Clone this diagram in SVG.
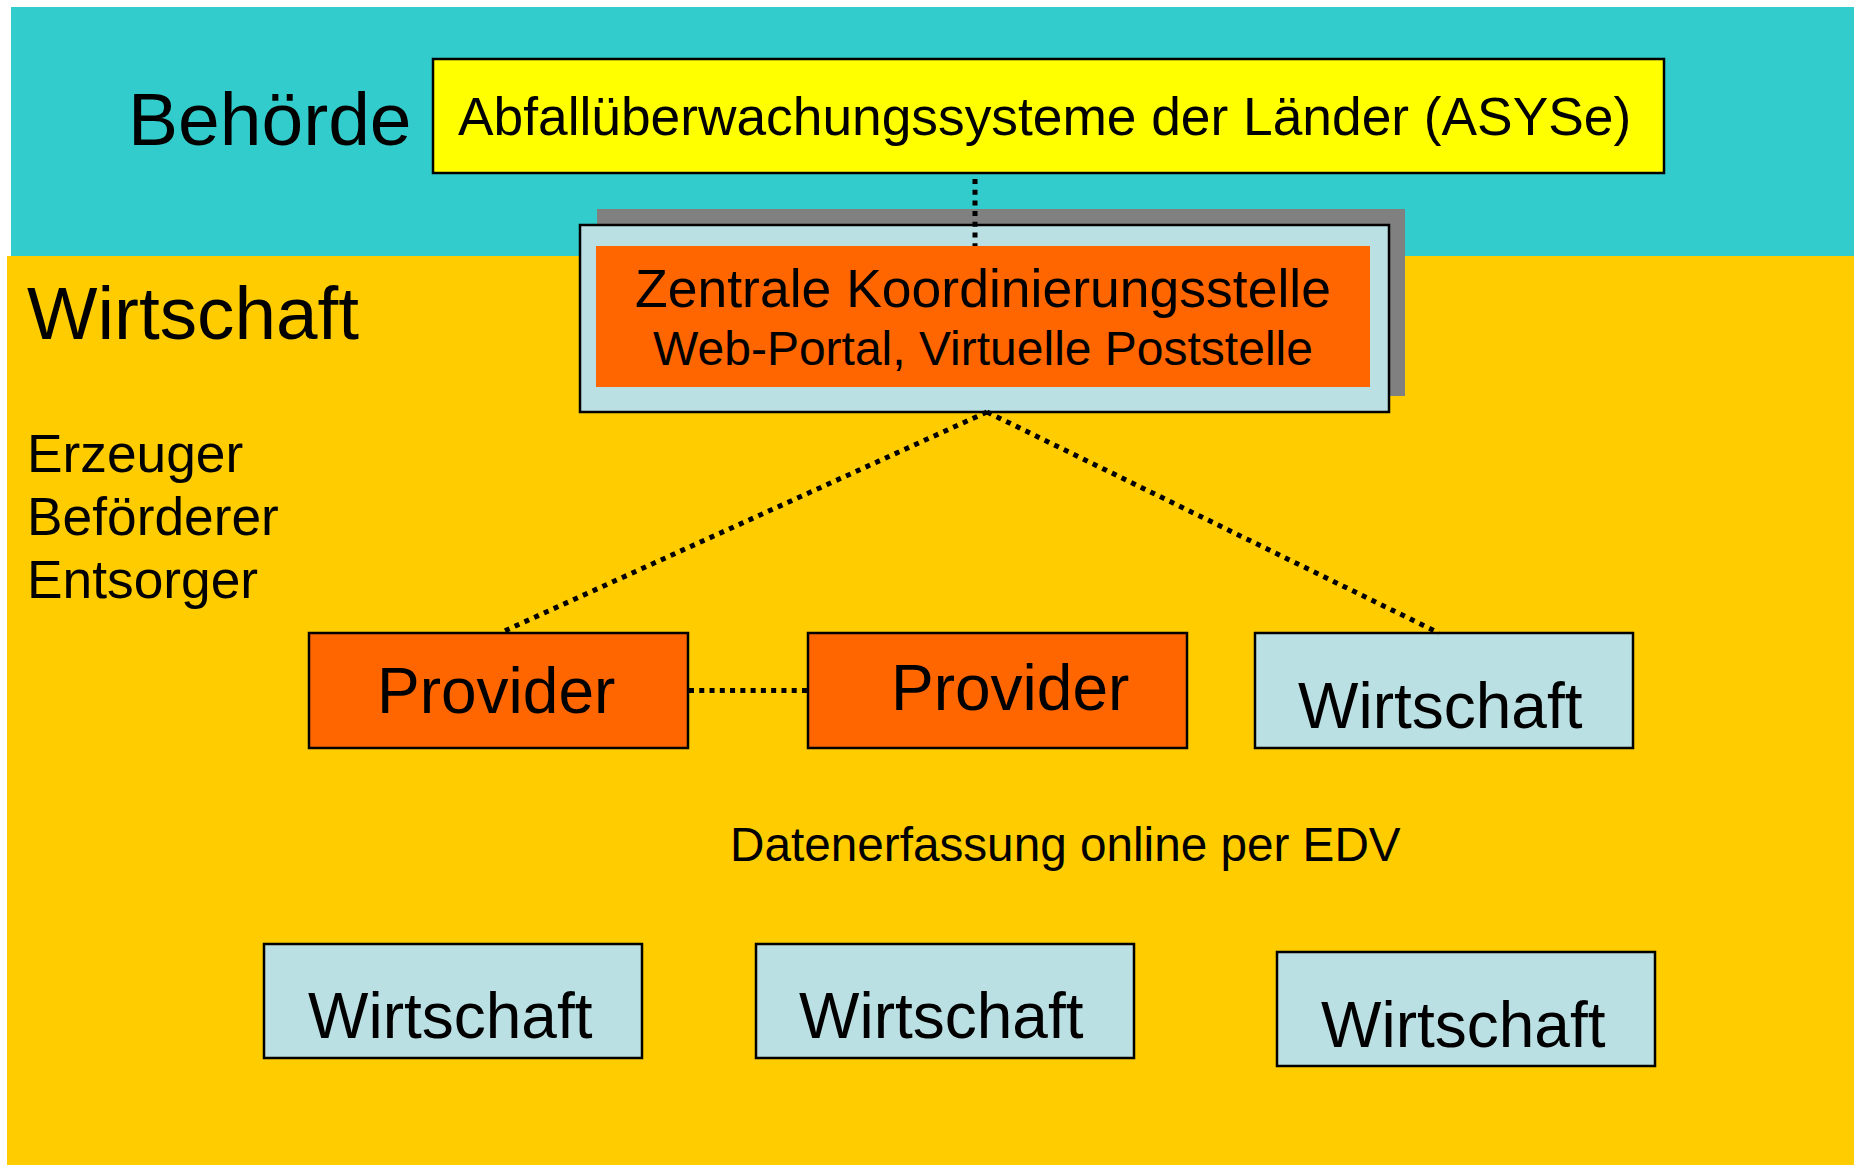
<svg xmlns="http://www.w3.org/2000/svg" width="1854" height="1165" viewBox="0 0 1854 1165">
<style>
text{font-family:"Liberation Sans",Arial,sans-serif;fill:#000}
.box{stroke:#000;stroke-width:2.5}
.lb{fill:#BBE0E3}
.or{fill:#FF6600}
.dot{fill:none;stroke:#000;stroke-width:5;stroke-dasharray:5 5.7}
.w{font-size:64px}
</style>
<rect x="0" y="0" width="1854" height="1165" fill="#fff"/>
<rect id="behoerde-bg" x="11" y="7" width="1843" height="249" fill="#33CCCC"/>
<rect id="wirtschaft-bg" x="7" y="256" width="1847" height="909" fill="#FFCC00"/>
<text x="128" y="145" font-size="75">Behörde</text>
<text x="27" y="339" font-size="74.7">Wirtschaft</text>
<g id="rollen">
<text x="27" y="472" font-size="53.3">Erzeuger</text>
<text x="27" y="535" font-size="53.3">Beförderer</text>
<text x="27" y="598" font-size="53.3">Entsorger</text>
</g>
<g id="asyse">
<rect class="box" x="433" y="59" width="1231" height="114" fill="#FFFF00"/>
<text x="458" y="135" font-size="53.3">Abfallüberwachungssysteme der Länder (ASYSe)</text>
</g>
<g id="zentrale">
<rect x="597" y="209" width="808" height="187" fill="#808080"/>
<rect class="box lb" x="580" y="225" width="809" height="187"/>
<rect class="or" x="596" y="246" width="774" height="141"/>
<text x="983" y="307" font-size="53.5" text-anchor="middle">Zentrale Koordinierungsstelle</text>
<text x="983" y="365" font-size="48" text-anchor="middle">Web-Portal, Virtuelle Poststelle</text>
</g>
<g id="provider1">
<rect class="box or" x="309" y="633" width="379" height="115"/>
<text x="377" y="713" font-size="64">Provider</text>
</g>
<g id="provider2">
<rect class="box or" x="808" y="633" width="379" height="115"/>
<text x="891" y="710" font-size="64">Provider</text>
</g>
<g id="wirtschaft-oben">
<rect class="box lb" x="1255" y="633" width="378" height="115"/>
<text class="w" x="1298" y="728">Wirtschaft</text>
</g>
<text id="datenerfassung" x="730" y="861" font-size="47.7">Datenerfassung online per EDV</text>
<g id="wirtschaft-a">
<rect class="box lb" x="264" y="944" width="378" height="114"/>
<text class="w" x="308" y="1038">Wirtschaft</text>
</g>
<g id="wirtschaft-b">
<rect class="box lb" x="756" y="944" width="378" height="114"/>
<text class="w" x="799" y="1038">Wirtschaft</text>
</g>
<g id="wirtschaft-c">
<rect class="box lb" x="1277" y="952" width="378" height="114"/>
<text class="w" x="1321" y="1047">Wirtschaft</text>
</g>
<g id="connectors">
<line class="dot" x1="975" y1="179" x2="975" y2="246"/>
<line class="dot" x1="987" y1="412" x2="500" y2="633"/>
<line class="dot" x1="987" y1="412" x2="1439" y2="633"/>
<line class="dot" x1="689" y1="690.5" x2="807" y2="690.5" style="stroke-dasharray:5 5.27"/>
</g>
</svg>
